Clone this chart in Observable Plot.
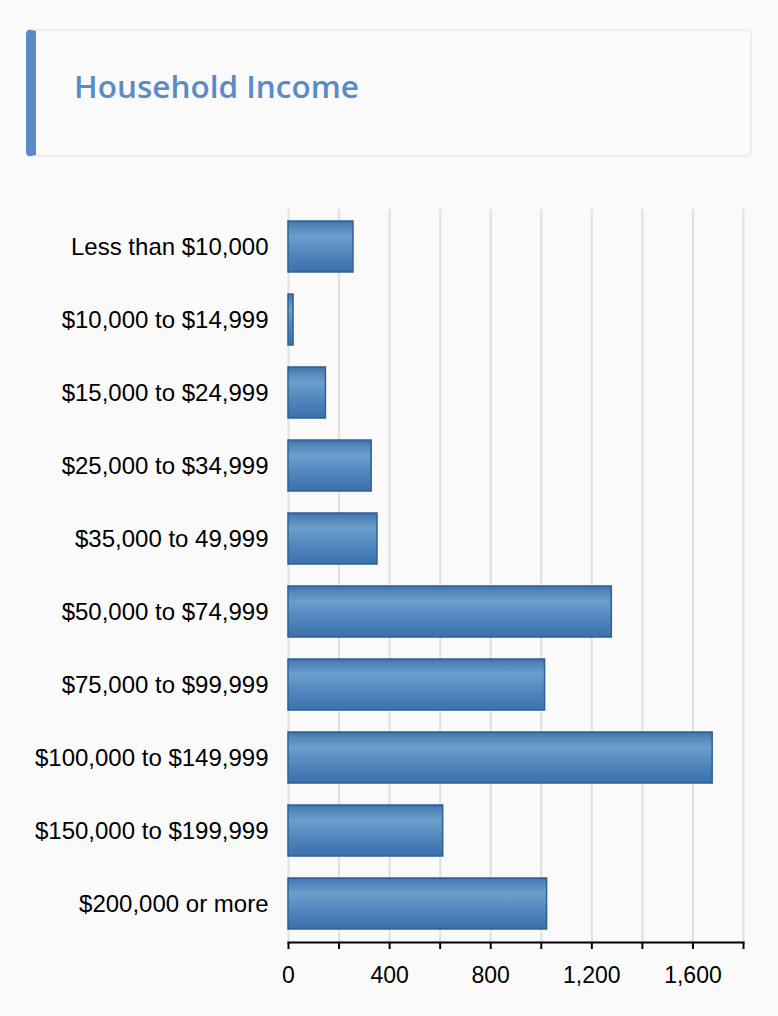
<!DOCTYPE html>
<html>
<head>
<meta charset="utf-8">
<script src="https://cdn.jsdelivr.net/npm/d3@7"></script>
<script src="https://cdn.jsdelivr.net/npm/@observablehq/plot@0.6"></script>
<style>
  html, body { margin: 0; padding: 0; background: #fafafa; }
  body { width: 778px; height: 1016px; overflow: hidden; position: relative; font-family: "Liberation Sans", Arial, sans-serif; }
  .title-box {
    position: absolute; left: 26px; top: 29px; width: 714px; height: 124px;
    border: 2px solid #ededed; border-left: 10px solid #5a8bc8; border-radius: 5px;
    background: #fafafa;
  }
  .title-box h2 {
    margin: 0; position: absolute; left: 38px; top: 39px; line-height: 32px;
    font-family: "Open Sans", "Noto Sans", sans-serif; font-weight: 600; font-size: 31.5px;
    color: #5a8bc8; white-space: nowrap;
  }
  #chart { position: absolute; left: 0; top: 180px; }
</style>
</head>
<body>
<div class="title-box"><h2>Household Income</h2></div>
<div id="chart"></div>
<script>
const categories = [
  "Less than $10,000",
  "$10,000 to $14,999",
  "$15,000 to $24,999",
  "$25,000 to $34,999",
  "$35,000 to 49,999",
  "$50,000 to $74,999",
  "$75,000 to $99,999",
  "$100,000 to $149,999",
  "$150,000 to $199,999",
  "$200,000 or more"
];
const households = [257, 20, 148, 329, 352, 1279, 1015, 1678, 612, 1023];
const xTicks = [0, 200, 400, 600, 800, 1000, 1200, 1400, 1600, 1800];
const xLabelled = [0, 400, 800, 1200, 1600];

const data = categories.map((c, i) => ({category: c, value: households[i]}));

const chart = Plot.plot({
  width: 778,
  height: 836,
  marginTop: 29,
  marginBottom: 74,
  marginLeft: 288,
  marginRight: 35,
  style: {background: "transparent", fontFamily: "'Liberation Sans', Arial, sans-serif", color: "#000"},
  x: {domain: [0, 1800]},
  y: {domain: categories, paddingInner: 0.3, paddingOuter: 0.15},
  marks: [
    Plot.gridX(xTicks, {stroke: "#e0e0e0", strokeOpacity: 1, strokeWidth: 2}),
    Plot.barX(data, {x: "value", y: "category", fill: "url(#barGrad)", stroke: "#2f6095", strokeWidth: 1.5}),
    Plot.frame({anchor: "bottom", stroke: "#000", strokeWidth: 2}),
    Plot.axisX(xTicks, {
      anchor: "bottom", tickSize: 7, tickPadding: 17, strokeWidth: 2, stroke: "#000",
      tickFormat: d => xLabelled.includes(d) ? d3.format(",")(d) : "",
      fontSize: 23, fill: "#000", label: null
    }),
    Plot.axisY({anchor: "left", tickSize: 0, tickPadding: 20, fontSize: 24, fill: "#000", label: null})
  ]
});

// gradient definition for the bars
const svgNS = "http://www.w3.org/2000/svg";
const defs = document.createElementNS(svgNS, "defs");
const grad = document.createElementNS(svgNS, "linearGradient");
grad.setAttribute("id", "barGrad");
grad.setAttribute("x1", "0"); grad.setAttribute("y1", "0");
grad.setAttribute("x2", "0"); grad.setAttribute("y2", "1");
[["0%", "#3f70a8"], ["8%", "#4f82b9"], ["30%", "#6c9fcb"], ["60%", "#5389bf"], ["100%", "#3b71ab"]].forEach(([o, c]) => {
  const s = document.createElementNS(svgNS, "stop");
  s.setAttribute("offset", o); s.setAttribute("stop-color", c);
  grad.appendChild(s);
});
defs.appendChild(grad);
chart.insertBefore(defs, chart.firstChild);

document.getElementById("chart").appendChild(chart);
</script>
</body>
</html>
